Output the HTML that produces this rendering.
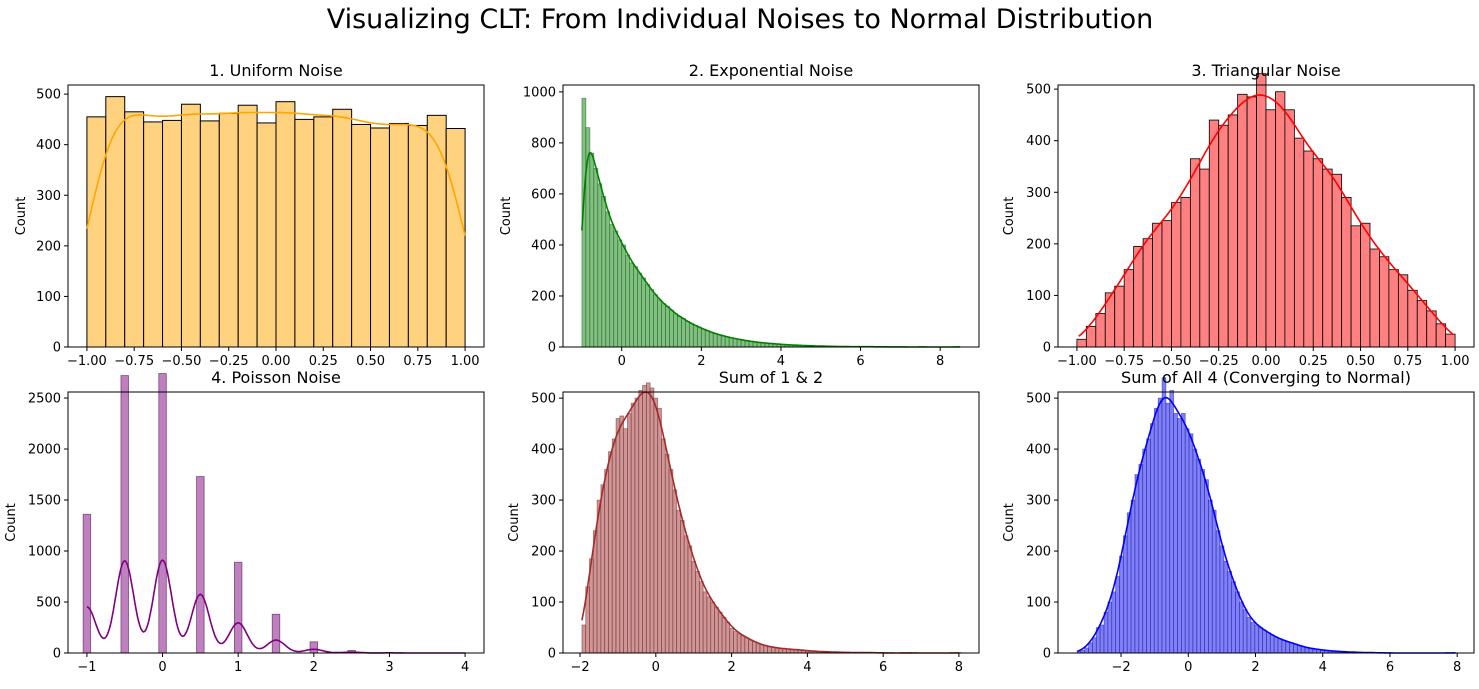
<!DOCTYPE html>
<html><head><meta charset="utf-8"><style>
body{margin:0;background:#fff;}
svg text{font-family:"DejaVu Sans","Liberation Sans",sans-serif;}
</style></head><body>
<svg id="fig" width="1479" height="684" xmlns="http://www.w3.org/2000/svg">
<rect width="1479" height="684" fill="#fff"/>
<text x="740" y="28" text-anchor="middle" font-size="27">Visualizing CLT: From Individual Noises to Normal Distribution</text>
</svg>
<script>
const uniformCounts=[455,495,465,445,448,480,447,462,478,443,485,450,455,470,440,433,442,438,458,432];
const expCounts=[975,860,760,700,640,590,530,480,455,420,400,360,330,315,290,270,245,225,205,185,170,160,145,130,120,112,100,92,85,78,70,64,58,53,48,44,40,36,33,30,27,25,22,20,18,16,15,14,12,11,10,9,8,7,7,6,5,5,4,4,3,3,3,2,2,2,2,1,1,1,1,1,1,1,1,1,0,1,0,0,1,0,0,0,0,1,0,0,0,0,0,0,0,0,1];
const triCounts=[15,40,65,105,118,150,195,210,240,245,280,290,365,345,440,430,450,490,485,530,460,495,460,405,380,365,345,335,290,235,240,190,175,150,140,110,90,70,45,25];
const poissonX=[-1,-0.5,0,0.5,1,1.5,2,2.5,3,3.5,4];
const poissonCounts=[1360,2720,2740,1730,890,380,110,25,5,1,1];
const sum12Counts=[55,130,185,240,300,330,360,395,420,460,465,440,470,490,500,515,525,530,520,500,480,420,390,360,320,280,260,230,210,180,160,140,120,110,100,90,80,70,60,48,42,38,34,30,26,22,18,16,14,12,11,10,9,8,8,7,7,6,5,5,4,3,3,3,2,2,2,2,1,1,1,1,1,1,1,1,1,0,0,1,0,0,0,0,0,0,1,0,0,0,0,0,0,0,0,0,0,0,0,1];
const sumAllCounts=[3,5,10,20,30,50,55,80,100,120,150,190,230,275,300,350,370,400,420,450,480,500,540,490,515,470,460,470,440,430,400,380,360,340,300,280,240,210,180,160,140,120,100,85,70,60,55,50,45,40,35,30,28,25,22,20,18,15,12,10,9,8,7,6,5,4,4,3,3,2,2,2,1,1,1,1,1,0,0,1,0,0,0,0,0,0,0,0,0,0,0,0,0,0,0,0,0,1];
const yTicks1=[0,100,200,300,400,500], xTicks1=[-1,-0.75,-0.5,-0.25,0,0.25,0.5,0.75,1];
const yTicks2=[0,200,400,600,800,1000], xTicks2=[0,2,4,6,8];
const yTicks4=[0,500,1000,1500,2000,2500], xTicks4=[-1,0,1,2,3,4];
const xTicks56=[-2,0,2,4,6,8];

const NS="http://www.w3.org/2000/svg";
const fig=document.getElementById('fig');
function el(tag,attrs,parent){const e=document.createElementNS(NS,tag);for(const k in attrs)e.setAttribute(k,attrs[k]);(parent||fig).appendChild(e);return e;}

function panel(o){
  const g=el('g',{});
  
  
  const L=o.x0,R=o.x1,T=o.y0,B=o.y1;
  const sx=v=>L+(v-o.xd[0])/(o.xd[1]-o.xd[0])*(R-L);
  const sy=v=>B-(v/o.ymax)*(B-T);
  const bars=el('g',{},g);
  
  
  o.lefts.forEach((lx,i)=>{
    const v=o.counts[i]; if(v<=0)return;
    const r=el('rect',{x:sx(lx),y:sy(v),width:Math.max(sx(lx+o.bw)-sx(lx),0.5),height:B-sy(v),fill:o.fill,stroke:o.edge,'stroke-width':o.ew},bars);
    
    
  });
  const centers=o.lefts.map(l=>l+o.bw/2);
  const pts=[];const a=o.kx[0],b=o.kx[1];const N=300;
  for(let k=0;k<=N;k++){const x=a+(b-a)*k/N;let s=0;
    centers.forEach((c,i)=>{const d=(x-c)/o.h;s+=o.counts[i]*Math.exp(-0.5*d*d);});
    s=s*o.bw/(o.h*Math.sqrt(2*Math.PI));pts.push(sx(x).toFixed(1)+','+sy(s).toFixed(1));}
  const kde=el('polyline',{points:pts.join(' '),fill:'none',stroke:o.line,'stroke-width':1.6},g);
  
  
  const fr=el('rect',{x:L,y:T,width:R-L,height:B-T,fill:'none',stroke:'#000','stroke-width':1},g);
  
  
  o.yt.forEach(v=>{const y=sy(v);el('line',{x1:L-4,x2:L,y1:y,y2:y,stroke:'#000'},g);
    const t=el('text',{x:L-7,y:y+4.5,'text-anchor':'end','font-size':13},g);t.textContent=v;
    
    });
  o.xt.forEach(v=>{const x=sx(v);el('line',{x1:x,x2:x,y1:B,y2:B+4,stroke:'#000'},g);
    const t=el('text',{x:x,y:B+18,'text-anchor':'middle','font-size':13},g);t.textContent=o.fmt(v).replace('-','\u2212');
    
    });
  const yl=el('text',{x:0,y:0,'text-anchor':'middle','font-size':13,transform:`translate(${o.ylx},${(T+B)/2}) rotate(-90)`},g);yl.textContent='Count';
  
  
  const tt=el('text',{x:(L+R)/2,y:T-9,'text-anchor':'middle','font-size':16},g);tt.textContent=o.title;
  
  
}
const seq=(start,w,n)=>Array.from({length:n},(_,i)=>start+i*w);
const f2=v=>v.toFixed(2), f0=v=>String(v);
const C=[68,563,1058],W=416,R1=[85,347],R2=[392,653];

panel({name:'uniform-noise-panel',title:'1. Uniform Noise',x0:C[0],x1:C[0]+W,y0:R1[0],y1:R1[1],xd:[-1.1,1.1],ymax:518,
  counts:uniformCounts,lefts:seq(-1,0.1,uniformCounts.length),bw:0.1,fill:'#ffd280',edge:'#000',ew:1,line:'#ffa500',h:0.12,kx:[-1,1],
  yt:yTicks1,xt:xTicks1,fmt:f2,ylx:25});
panel({name:'exponential-noise-panel',title:'2. Exponential Noise',x0:C[1],x1:C[1]+W,y0:R1[0],y1:R1[1],xd:[-1.475,8.975],ymax:1027,
  counts:expCounts,lefts:seq(-1,0.1,expCounts.length),bw:0.1,fill:'#80c080',edge:'rgba(0,60,0,0.45)',ew:0.8,line:'#008000',h:0.13,kx:[-1,8.5],
  yt:yTicks2,xt:xTicks2,fmt:f0,ylx:510});
panel({name:'triangular-noise-panel',title:'3. Triangular Noise',x0:C[2],x1:C[2]+W,y0:R1[0],y1:R1[1],xd:[-1.1,1.1],ymax:508,
  counts:triCounts,lefts:seq(-1,0.05,triCounts.length),bw:0.05,fill:'#ff8080',edge:'#000',ew:0.8,line:'#ff0000',h:0.08,kx:[-0.99,0.99],
  yt:yTicks1,xt:xTicks1,fmt:f2,ylx:1013});
panel({name:'poisson-noise-panel',title:'4. Poisson Noise',x0:C[0],x1:C[0]+W,y0:R2[0],y1:R2[1],xd:[-1.25,4.25],ymax:2559,
  counts:poissonCounts,lefts:poissonX.map(v=>v-0.05),bw:0.1,fill:'#bf80bf',edge:'rgba(60,0,60,0.6)',ew:0.8,line:'#800080',h:0.12,kx:[-1,4],
  yt:yTicks4,xt:xTicks4,fmt:f0,ylx:15});
panel({name:'sum-1-2-panel',title:'Sum of 1 & 2',x0:C[1],x1:C[1]+W,y0:R2[0],y1:R2[1],xd:[-2.45,8.53],ymax:512,
  counts:sum12Counts,lefts:seq(-1.95,0.1,sum12Counts.length),bw:0.1,fill:'#d29494',edge:'rgba(60,20,20,0.45)',ew:0.8,line:'#a52a2a',h:0.2,kx:[-1.95,8.0],
  yt:yTicks1,xt:xTicks56,fmt:f0,ylx:518});
panel({name:'sum-all-panel',title:'Sum of All 4 (Converging to Normal)',x0:C[2],x1:C[2]+W,y0:R2[0],y1:R2[1],xd:[-3.875,8.5],ymax:512,
  counts:sumAllCounts,lefts:seq(-3.31,0.115,sumAllCounts.length),bw:0.115,fill:'#8080ff',edge:'rgba(0,0,90,0.45)',ew:0.8,line:'#0000ff',h:0.2,kx:[-3.3,7.95],
  yt:yTicks1,xt:xTicks56,fmt:f0,ylx:1013});
</script>
</body></html>
